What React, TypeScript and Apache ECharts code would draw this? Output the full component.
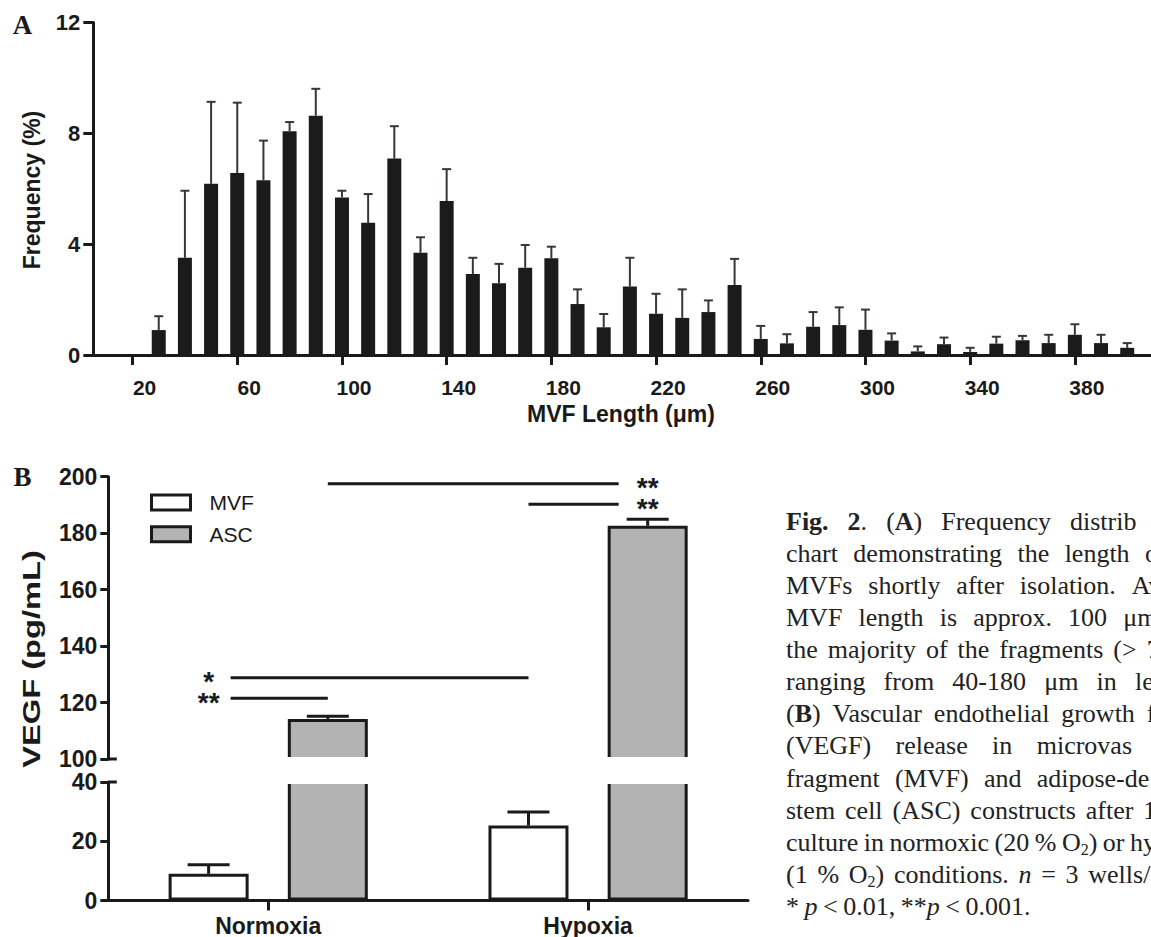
import React, { useEffect, useRef } from "react";
import * as echarts from "echarts";

// ---------------- Panel A data ----------------
const lengthBins = [30, 40, 50, 60, 70, 80, 90, 100, 110, 120, 130, 140, 150, 160, 170, 180, 190, 200, 210, 220, 230, 240, 250, 260, 270, 280, 290, 300, 310, 320, 330, 340, 350, 360, 370, 380, 390, 400];
const freqMean = [0.90, 3.51, 6.18, 6.57, 6.31, 8.08, 8.64, 5.69, 4.77, 7.09, 3.69, 5.56, 2.92, 2.59, 3.15, 3.49, 1.84, 1.00, 2.47, 1.49, 1.34, 1.55, 2.53, 0.58, 0.42, 1.02, 1.08, 0.91, 0.52, 0.13, 0.39, 0.11, 0.41, 0.53, 0.43, 0.73, 0.43, 0.26];
const freqSD = [0.50, 2.42, 2.96, 2.54, 1.43, 0.33, 0.97, 0.24, 1.04, 1.17, 0.56, 1.15, 0.59, 0.70, 0.82, 0.42, 0.53, 0.48, 1.04, 0.72, 1.03, 0.42, 0.94, 0.47, 0.33, 0.53, 0.64, 0.73, 0.26, 0.18, 0.24, 0.15, 0.25, 0.16, 0.30, 0.38, 0.30, 0.17];
const lengthTicks = [20, 60, 100, 140, 180, 220, 260, 300, 340, 380];
const freqRange = [0, 12];
const freqInterval = 4;

// ---------------- Panel B data ----------------
const conditions = ["Normoxia", "Hypoxia"];
const groupNames = ["MVF", "ASC"];
const mvfMean = [9.0, 25.3];
const mvfSD = [3.1, 4.6];
const ascMean = [114.2, 182.6];
const ascSD = [0.9, 2.3];
const lowerRange = [0, 40];
const upperRange = [100, 200];
const vegfInterval = 20;

// significance marks: stars on [condition, group], line to [condition, group]
const sigLabels = ["**", "**", "*", "**"];
const sigLevels = [197.5, 190.2, 128.8, 121.5];
const sigStarBar = [[1, 1], [1, 1], [0, 0], [0, 0]];
const sigOtherBar = [[0, 1], [1, 0], [1, 0], [0, 1]];

// ---------------- Caption ----------------
const captionLines = [
  "{b:Fig.} {b:2}. ({b:A}) Frequency distrib",
  "chart demonstrating the length o",
  "MVFs shortly after isolation. Av",
  "MVF length is approx. 100 μm,",
  "the majority of the fragments (> 7",
  "ranging from 40-180 μm in le",
  "({b:B}) Vascular endothelial growth f",
  "(VEGF) release in microvas",
  "fragment (MVF) and adipose-de",
  "stem cell (ASC) constructs after 1",
  "culture in normoxic (20 % O{s:2}) or hy",
  "(1 % O{s:2}) conditions. {i:n} = 3 wells/g",
  "* {i:p} < 0.01, **{i:p} < 0.001.",
];
const captionLastWordX = [1070, 1145, 1131.7, 1123.3, 1146.7, 1135, 1146.7, 1036.7, 1036.7, 1143.3, 1130, 1088.3, null];

// ---------------- layout / style ----------------
const W = 1151;
const H = 937;
const SANS = "'Liberation Sans', Arial, Helvetica, sans-serif";
const SERIF = "'Liberation Serif', 'Times New Roman', serif";
const INK = "#1a1a1a";
const gridA = { left: 93.3, top: 22.6, width: 1057.7, height: 332.4 };
const gridUp = { left: 108.3, top: 476.7, width: 639.7, height: 282.3 };
const gridLow = { left: 108.3, top: 782, width: 639.7, height: 119.7 };
const barWB = 80;
const barGapRatio = 0.49;
const barOffset = (barWB + barWB * barGapRatio) / 2;
const CAP_FS = 26;
const SUB_FS = 16;
const CAP_X = 786;
const CAP_BASE0 = 530;
const CAP_STEP = 32.1;

function makeErr(offset: number, capW: number, lw: number, color: string) {
  return (_p: any, api: any) => {
    const x = api.value(0);
    const m = api.value(1);
    const sd = api.value(2);
    const a = api.coord([x, m]);
    const b = api.coord([x, m + sd]);
    const cx = a[0] + offset;
    return {
      type: "group",
      children: [
        { type: "line", shape: { x1: cx, y1: a[1], x2: cx, y2: b[1] }, style: { stroke: color, lineWidth: lw } },
        { type: "line", shape: { x1: cx - capW / 2, y1: b[1], x2: cx + capW / 2, y2: b[1] }, style: { stroke: color, lineWidth: lw } },
      ],
    };
  };
}

type Seg = { t: string; k: string };
function parseWord(w: string): Seg[] {
  const out: Seg[] = [];
  const re = /\{(b|i|s):([^}]*)\}/g;
  let last = 0;
  let m: RegExpExecArray | null;
  while ((m = re.exec(w))) {
    if (m.index > last) out.push({ t: w.slice(last, m.index), k: "n" });
    out.push({ t: m[2], k: m[1] });
    last = m.index + m[0].length;
  }
  if (last < w.length) out.push({ t: w.slice(last), k: "n" });
  return out;
}

function buildCaption(): any[] {
  const ctx = document.createElement("canvas").getContext("2d")!;
  const fontOf = (k: string) =>
    `${k === "i" ? "italic " : ""}${k === "b" ? "bold " : ""}${k === "s" ? SUB_FS : CAP_FS}px ${SERIF}`;
  const segW = (s: Seg) => {
    ctx.font = fontOf(s.k);
    return ctx.measureText(s.t).width;
  };
  ctx.font = fontOf("n");
  const spaceW = ctx.measureText(" ").width;
  const col = "#222";
  const rich = {
    n: { fontSize: CAP_FS, fontFamily: SERIF, lineHeight: 30, fill: col },
    b: { fontSize: CAP_FS, fontFamily: SERIF, fontWeight: "bold", lineHeight: 30, fill: col },
    i: { fontSize: CAP_FS, fontFamily: SERIF, fontStyle: "italic", lineHeight: 30, fill: col },
    s: { fontSize: SUB_FS, fontFamily: SERIF, lineHeight: 14, verticalAlign: "bottom", fill: col },
  };
  const els: any[] = [];
  captionLines.forEach((line, li) => {
    const words = line.split(" ").map(parseWord);
    const widths = words.map((ws) => ws.reduce((s, g) => s + segW(g), 0));
    const target = captionLastWordX[li];
    let gap = spaceW * 0.85;
    if (target != null && words.length > 1) {
      const used = widths.slice(0, -1).reduce((a, b) => a + b, 0);
      gap = (target - CAP_X - used) / (words.length - 1);
    }
    let x = CAP_X;
    const y = CAP_BASE0 + li * CAP_STEP - 8.8;
    words.forEach((ws, wi) => {
      els.push({
        type: "text",
        x,
        y,
        z: 50,
        style: {
          text: ws.map((g) => `{${g.k}|${g.t}}`).join(""),
          rich,
          fontSize: CAP_FS,
          fontFamily: SERIF,
          fill: col,
          align: "left",
          verticalAlign: "middle",
        },
      });
      x += widths[wi] + gap;
    });
  });
  return els;
}

function buildOption(): any {
  const axisLineStyle = { color: INK, width: 3 };
  const tickLabelA = { color: INK, fontWeight: "bold", fontSize: 21, fontFamily: SANS };
  const tickLabelAy = { color: INK, fontWeight: "bold", fontSize: 22, fontFamily: SANS };
  const tickLabelB = { color: INK, fontWeight: "bold", fontSize: 23, fontFamily: SANS, lineHeight: 20 };
  const pxPerUnit = 104.7 / 40;
  const xMinA = 5;
  const xMaxA = xMinA + gridA.width / pxPerUnit;

  const series: any[] = [
    {
      type: "bar",
      name: "Frequency",
      xAxisIndex: 0,
      yAxisIndex: 0,
      data: lengthBins.map((b, i) => [b, freqMean[i]]),
      barWidth: 14,
      itemStyle: { color: "#1b1b1b" },
      z: 2,
    },
    {
      type: "custom",
      name: "FrequencySD",
      xAxisIndex: 0,
      yAxisIndex: 0,
      data: lengthBins.map((b, i) => [b, freqMean[i], freqSD[i]]),
      encode: { x: 0, y: 1 },
      renderItem: makeErr(0, 9, 2, "#34383d"),
      z: 3,
    },
  ];

  const means = [mvfMean, ascMean];
  const sds = [mvfSD, ascSD];
  const fills = ["#ffffff", "#b3b3b3"];
  [2, 1].forEach((gi) => {
    groupNames.forEach((g, k) => {
      const data = means[k].map((v) => (gi === 1 ? (v >= upperRange[0] ? v : "-") : v));
      series.push({
        type: "bar",
        name: g,
        xAxisIndex: gi,
        yAxisIndex: gi,
        data,
        barWidth: barWB,
        barGap: `${barGapRatio * 100}%`,
        clip: true,
        itemStyle: { color: fills[k], borderColor: INK, borderWidth: 3 },
        z: 2,
      });
    });
  });
  [2, 1].forEach((gi) => {
    groupNames.forEach((g, k) => {
      const data = means[k]
        .map((m, i) => [i, m, sds[k][i]])
        .filter((d) => (gi === 1 ? d[1] >= upperRange[0] : d[1] < upperRange[0]));
      series.push({
        type: "custom",
        name: g + "SD",
        xAxisIndex: gi,
        yAxisIndex: gi,
        data,
        encode: { x: 0, y: 1 },
        renderItem: makeErr(k === 0 ? -barOffset : barOffset, 42, 3, INK),
        z: 3,
      });
    });
  });

  return {
    animation: false,
    backgroundColor: "#ffffff",
    textStyle: { fontFamily: SANS },
    legend: {
      data: groupNames,
      orient: "vertical",
      left: 150,
      top: 492,
      padding: 0,
      icon: "rect",
      itemWidth: 39,
      itemHeight: 15,
      itemGap: 10.7,
      selectedMode: false,
      itemStyle: { borderWidth: 3, borderColor: INK },
      textStyle: { fontSize: 21, fontFamily: SANS, color: INK, padding: [0, 0, 0, 14] },
    },
    grid: [{ ...gridA }, { ...gridUp }, { ...gridLow }],
    xAxis: [
      {
        type: "value",
        gridIndex: 0,
        min: xMinA,
        max: xMaxA,
        splitLine: { show: false },
        axisLine: { show: true, onZero: false, lineStyle: axisLineStyle },
        axisTick: { show: true, customValues: lengthTicks, length: 10, lineStyle: axisLineStyle },
        axisLabel: { ...tickLabelA, customValues: lengthTicks, margin: 22, padding: [0, 0, 0, 24] },
      },
      { type: "category", gridIndex: 1, data: conditions, show: false },
      {
        type: "category",
        gridIndex: 2,
        data: conditions,
        axisLine: { show: true, lineStyle: axisLineStyle },
        axisTick: { show: true, alignWithLabel: true, length: 10, lineStyle: axisLineStyle },
        axisLabel: { ...tickLabelB, margin: 15 },
      },
    ],
    yAxis: [
      {
        type: "value",
        gridIndex: 0,
        min: freqRange[0],
        max: freqRange[1],
        interval: freqInterval,
        splitLine: { show: false },
        axisLine: { show: true, lineStyle: axisLineStyle },
        axisTick: { show: true, length: 10, lineStyle: axisLineStyle },
        axisLabel: { ...tickLabelAy, margin: 13 },
      },
      {
        type: "value",
        gridIndex: 1,
        min: upperRange[0],
        max: upperRange[1],
        interval: vegfInterval,
        splitLine: { show: false },
        axisLine: { show: true, lineStyle: axisLineStyle },
        axisTick: { show: true, length: 8, lineStyle: axisLineStyle },
        axisLabel: { ...tickLabelB, margin: 11 },
      },
      {
        type: "value",
        gridIndex: 2,
        min: lowerRange[0],
        max: lowerRange[1],
        interval: vegfInterval,
        splitLine: { show: false },
        axisLine: { show: true, lineStyle: axisLineStyle },
        axisTick: { show: true, length: 8, lineStyle: axisLineStyle },
        axisLabel: { ...tickLabelB, margin: 11 },
      },
    ],
    series,
  };
}

function buildGraphic(chart: any): any[] {
  const els: any[] = [];
  const txt = (x: number, y: number, text: string, size: number, family: string, weight: string, rot = 0, sx = 1, lh?: number) => ({
    type: "text",
    x,
    y,
    rotation: rot,
    scaleX: sx,
    z: 50,
    style: {
      text,
      fontSize: size,
      fontFamily: family,
      fontWeight: weight,
      fill: INK,
      align: "center",
      verticalAlign: "middle",
      ...(lh ? { lineHeight: lh } : {}),
    },
  });
  els.push(txt(22.5, 25, "A", 27, SERIF, "bold"));
  els.push(txt(22.5, 477, "B", 27, SERIF, "bold"));
  els.push(txt(32, 190, "Frequency (%)", 23, SANS, "bold", Math.PI / 2));
  els.push(txt(621, 414, "MVF Length (μm)", 23, SANS, "bold"));
  els.push(txt(31.7, 659, "VEGF (pg/mL)", 23, SANS, "bold", Math.PI / 2, 1.42));

  // axis break
  const yBreakTop = chart.convertToPixel({ yAxisIndex: 1 }, upperRange[0]);
  const yBreakBot = chart.convertToPixel({ yAxisIndex: 2 }, lowerRange[1]);
  els.push({
    type: "rect",
    z: 40,
    shape: { x: gridUp.left + 12, y: yBreakTop - 2, width: gridUp.width - 12, height: yBreakBot - yBreakTop + 4 },
    style: { fill: "#ffffff" },
  });
  [yBreakTop, yBreakBot].forEach((yy) => {
    els.push({
      type: "line",
      z: 45,
      shape: { x1: gridUp.left, y1: yy, x2: gridUp.left + 8.5, y2: yy },
      style: { stroke: INK, lineWidth: 3 },
    });
  });

  // significance marks
  const barX = (c: number, g: number) =>
    chart.convertToPixel({ xAxisIndex: 2 }, c) + (g === 0 ? -barOffset : barOffset);
  const starGroups: Record<string, { x: number; ys: number[]; labs: string[] }> = {};
  sigLabels.forEach((lab, i) => {
    const sx = barX(sigStarBar[i][0], sigStarBar[i][1]);
    const ox = barX(sigOtherBar[i][0], sigOtherBar[i][1]);
    const y = chart.convertToPixel({ yAxisIndex: 1 }, sigLevels[i]);
    const x1 = sx > ox ? ox : sx + 22;
    const x2 = sx > ox ? sx - 29 : ox;
    els.push({ type: "line", z: 45, shape: { x1, y1: y, x2, y2: y }, style: { stroke: INK, lineWidth: 3 } });
    const key = sigStarBar[i].join("-");
    if (!starGroups[key]) starGroups[key] = { x: sx, ys: [], labs: [] };
    starGroups[key].ys.push(y);
    starGroups[key].labs.push(lab);
  });
  Object.values(starGroups).forEach((g) => {
    const order = g.ys.map((y, i) => i).sort((a, b) => g.ys[a] - g.ys[b]);
    const ys = order.map((i) => g.ys[i]);
    const labs = order.map((i) => g.labs[i]);
    const lh = ys.length > 1 ? (ys[ys.length - 1] - ys[0]) / (ys.length - 1) : 20;
    const yc = (ys[0] + ys[ys.length - 1]) / 2;
    els.push(txt(g.x, yc + 4, labs.join("\n"), 28, SANS, "bold", 0, 1, lh));
  });

  return els.concat(buildCaption());
}

export default function App() {
  const ref = useRef<HTMLDivElement>(null);
  useEffect(() => {
    const el = ref.current!;
    const chart = echarts.init(el, null, { renderer: "svg", width: W, height: H });
    chart.setOption(buildOption());
    chart.setOption({ graphic: buildGraphic(chart) });
    return () => chart.dispose();
  }, []);
  return (
    <div
      ref={ref}
      style={{ position: "absolute", left: 0, top: 0, width: W, height: H, background: "#fff", overflow: "hidden" }}
    />
  );
}
